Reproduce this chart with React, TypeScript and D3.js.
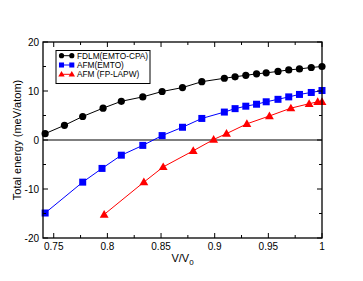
import React from 'react';
import * as d3 from 'd3';

// V/V0 positions and total energies (meV/atom)
const fdlmX = [0.742, 0.760, 0.777, 0.796, 0.813, 0.833, 0.851, 0.870, 0.888, 0.909, 0.919, 0.929, 0.939, 0.948, 0.959, 0.969, 0.979, 0.990, 1.0];
const fdlmY = [1.3, 3.0, 4.8, 6.5, 7.9, 8.8, 9.9, 10.7, 11.9, 12.6, 12.9, 13.2, 13.5, 13.7, 14.0, 14.3, 14.5, 14.8, 15.0];

const afmEmtoX = [0.742, 0.777, 0.795, 0.813, 0.833, 0.851, 0.870, 0.888, 0.909, 0.919, 0.929, 0.939, 0.948, 0.959, 0.969, 0.979, 0.990, 1.0];
const afmEmtoY = [-14.9, -8.6, -5.8, -3.1, -1.1, 0.9, 2.6, 4.4, 5.7, 6.4, 6.9, 7.3, 7.8, 8.3, 8.8, 9.3, 9.7, 10.1];

const afmLapwX = [0.797, 0.834, 0.852, 0.880, 0.899, 0.911, 0.930, 0.951, 0.971, 0.988, 0.996, 1.0];
const afmLapwY = [-15.2, -8.6, -5.5, -2.2, 0.1, 1.3, 3.3, 4.9, 6.5, 7.4, 7.8, 7.8];

const seriesNames = ['FDLM(EMTO-CPA)', 'AFM(EMTO)', 'AFM (FP-LAPW)'];
const seriesColors = ['#000000', '#0000ff', '#ff0000'];

const xTicks = [0.75, 0.8, 0.85, 0.9, 0.95, 1];
const xMinor = [0.775, 0.825, 0.875, 0.925, 0.975];
const yTicks = [-20, -10, 0, 10, 20];
const yMinor = [-15, -5, 5, 15];

const W = 363;
const H = 281;
const margin = { top: 42, right: 41, bottom: 43, left: 43 };
const FONT = 'Liberation Sans, Arial, sans-serif';

const Marker = ({ kind, x, y, color, size = 1 }: { kind: number; x: number; y: number; color: string; size?: number }) => {
  if (kind === 0) return <circle cx={x} cy={y} r={3.6 * size} fill={color} />;
  if (kind === 1) return <rect x={x - 3.5 * size} y={y - 3.5 * size} width={7 * size} height={7 * size} fill={color} />;
  const s = d3.symbol(d3.symbolTriangle, 34 * size * size)();
  return <path d={s || ''} transform={`translate(${x},${y + 0.6 * size})`} fill={color} />;
};

export default function App() {
  const x = d3.scaleLinear().domain([0.74, 1]).range([margin.left, W - margin.right]);
  const y = d3.scaleLinear().domain([-20, 20]).range([H - margin.bottom, margin.top]);

  const series = [
    { xs: fdlmX, ys: fdlmY },
    { xs: afmEmtoX, ys: afmEmtoY },
    { xs: afmLapwX, ys: afmLapwY },
  ];

  const line = d3.line<[number, number]>().x(d => x(d[0])).y(d => y(d[1]));

  const x0 = margin.left;
  const x1 = W - margin.right;
  const y0 = margin.top;
  const y1 = H - margin.bottom;

  return (
    <svg width={W} height={H} style={{ position: 'fixed', left: 0, top: 0, background: '#fff' }} fontFamily={FONT}>
      <rect x={0} y={0} width={W} height={H} fill="#fff" />
      <line x1={x0} x2={x1} y1={y(0)} y2={y(0)} stroke="#000" strokeWidth={1.2} />

      {series.map((s, i) => {
        const pts = s.xs.map((v, k) => [v, s.ys[k]] as [number, number]);
        return (
          <g key={i}>
            <path d={line(pts) || ''} fill="none" stroke={seriesColors[i]} strokeWidth={1} />
            {pts.map((p, k) => (
              <Marker key={k} kind={i} x={x(p[0])} y={y(p[1])} color={seriesColors[i]} />
            ))}
          </g>
        );
      })}

      {/* ticks, inward on all four sides */}
      {xTicks.map(t => (
        <g key={'xt' + t}>
          <line x1={x(t)} x2={x(t)} y1={y1} y2={y1 - 5} stroke="#000" />
          <line x1={x(t)} x2={x(t)} y1={y0} y2={y0 + 5} stroke="#000" />
          <text x={x(t)} y={y1 + 12} textAnchor="middle" fontSize={10}>{t}</text>
        </g>
      ))}
      {xMinor.map(t => (
        <g key={'xm' + t}>
          <line x1={x(t)} x2={x(t)} y1={y1} y2={y1 - 3} stroke="#000" />
          <line x1={x(t)} x2={x(t)} y1={y0} y2={y0 + 3} stroke="#000" />
        </g>
      ))}
      {yTicks.map(t => (
        <g key={'yt' + t}>
          <line x1={x0} x2={x0 + 5} y1={y(t)} y2={y(t)} stroke="#000" />
          <line x1={x1} x2={x1 - 5} y1={y(t)} y2={y(t)} stroke="#000" />
          <text x={x0 - 4} y={y(t)} dy="0.35em" textAnchor="end" fontSize={10}>{t}</text>
        </g>
      ))}
      {yMinor.map(t => (
        <g key={'ym' + t}>
          <line x1={x0} x2={x0 + 3} y1={y(t)} y2={y(t)} stroke="#000" />
          <line x1={x1} x2={x1 - 3} y1={y(t)} y2={y(t)} stroke="#000" />
        </g>
      ))}

      <rect x={x0} y={y0} width={x1 - x0} height={y1 - y0} fill="none" stroke="#000" strokeWidth={1.3} />

      <text x={(x0 + x1) / 2} y={y1 + 24} textAnchor="middle" fontSize={11}>
        V/V<tspan dy={3} fontSize={8}>0</tspan>
      </text>
      <text transform={`translate(21,${(y0 + y1) / 2}) rotate(-90)`} textAnchor="middle" fontSize={11}>
        Total energy (meV/atom)
      </text>

      {/* legend */}
      <rect x={56} y={50.5} width={94} height={33} fill="#fff" stroke="#000" strokeWidth={1} />
      {seriesNames.map((n, i) => {
        const ly = 55.7 + i * 9.3;
        return (
          <g key={n}>
            <line x1={61.5} x2={71.8} y1={ly} y2={ly} stroke={seriesColors[i]} strokeWidth={1} />
            <Marker kind={i} x={61.5} y={ly} color={seriesColors[i]} size={0.72} />
            <Marker kind={i} x={71.8} y={ly} color={seriesColors[i]} size={0.72} />
            <text x={77} y={ly} dy="0.35em" fontSize={8.3}>{n}</text>
          </g>
        );
      })}
    </svg>
  );
}
